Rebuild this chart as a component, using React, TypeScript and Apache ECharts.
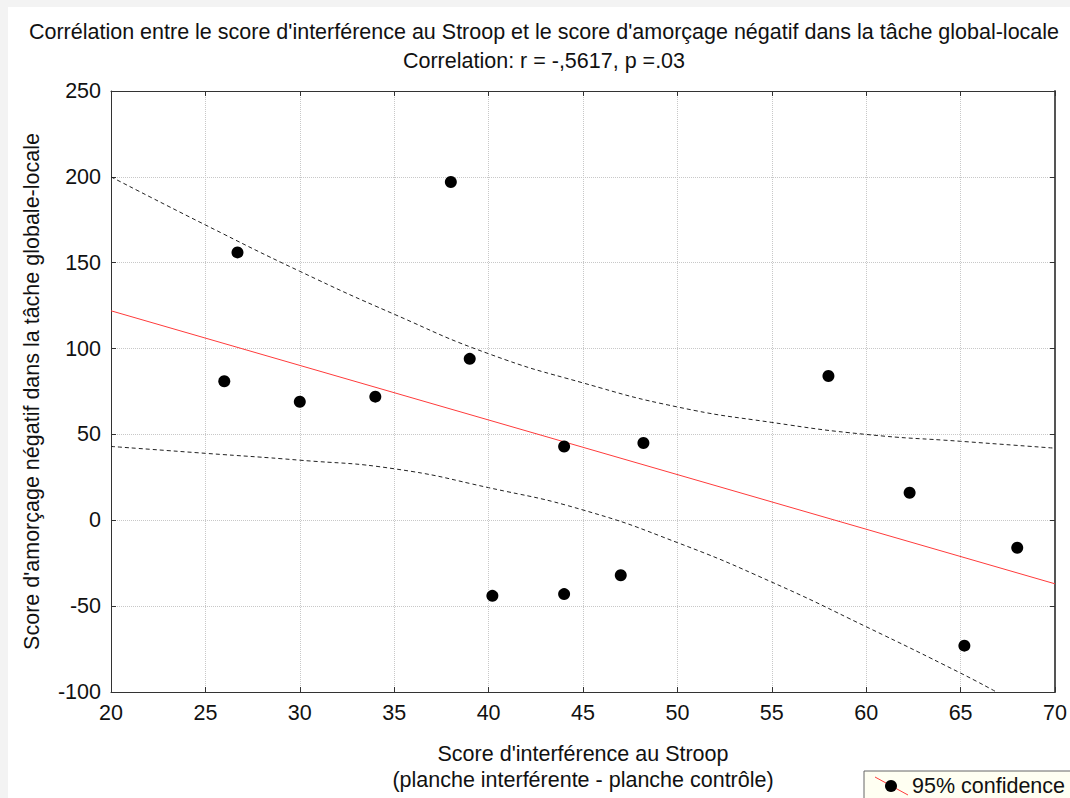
import React, { useEffect, useRef } from "react";
import * as echarts from "echarts";

const stroopScores = [26, 26.7, 30, 34, 38, 39, 44, 48.2, 40.2, 44, 47, 58, 62.3, 68, 65.2];
const primingScores = [81, 156, 69, 72, 197, 94, 43, 45, -44, -43, -32, 84, 16, -16, -73];

const fitX = [20, 70];
const fitY = [122, -37];

const bandX = [20, 25, 30, 35, 40, 45, 50, 55, 60, 65, 70];
const upperBand = [200, 172, 145, 120, 97, 80, 66, 57, 50, 46, 42];
const lowerBandX = [20, 25, 30, 35, 40, 45, 50, 55, 60, 65, 66.9];
const lowerBand = [43, 39, 35, 30, 19, 6, -13, -36, -62, -89, -100];

const titleText =
  "Corrélation entre le score d'interférence au Stroop et le score d'amorçage négatif dans la tâche global-locale";
const subtitleText = "Correlation: r = -,5617, p =.03";
const xName = "Score d'interférence au Stroop\n(planche interférente - planche contrôle)";
const yName = "Score d'amorçage négatif dans la tâche globale-locale";
const legendLabel = "95% confidence";

const FONT = "'Liberation Sans', Arial, sans-serif";
const FS = 21.5;

export default function App() {
  const ref = useRef<HTMLDivElement>(null);
  useEffect(() => {
    if (!ref.current) return;
    const chart = echarts.init(ref.current, undefined, { renderer: "svg" });
    const zip = (xs: number[], ys: number[]) => xs.map((x, i) => [x, ys[i]]);
    const axisCommon = {
      type: "value" as const,
      axisLine: { show: true, onZero: false, lineStyle: { color: "#333", width: 1 } },
      axisTick: { show: true, inside: true, length: 5, lineStyle: { color: "#333" } },
    };
    chart.setOption({
      animation: false,
      backgroundColor: "#ffffff",
      textStyle: { fontFamily: FONT },
      title: [
        {
          text: titleText,
          left: 531,
          top: 9,
          textAlign: "center",
          textStyle: { fontFamily: FONT, fontSize: FS, fontWeight: "normal", color: "#111" },
        },
        {
          text: subtitleText,
          left: 531,
          top: 38,
          textAlign: "center",
          textStyle: { fontFamily: FONT, fontSize: FS, fontWeight: "normal", color: "#111" },
        },
      ],
      grid: { left: 103, top: 84, width: 944, height: 605, containLabel: false },
      xAxis: [
        {
          ...axisCommon,
          min: 20,
          max: 70,
          interval: 5,
          position: "bottom",
          name: xName,
          nameLocation: "middle",
          nameGap: 49,
          nameTextStyle: { fontFamily: FONT, fontSize: FS, color: "#111", lineHeight: 26 },
          axisLabel: { fontFamily: FONT, fontSize: FS, color: "#111", margin: 10 },
          splitLine: { show: true, lineStyle: { type: "dotted", color: "#c8c8c8", width: 1 } },
        },
        {
          ...axisCommon,
          min: 20,
          max: 70,
          interval: 5,
          position: "top",
          axisLabel: { show: false },
          splitLine: { show: false },
        },
      ],
      yAxis: [
        {
          ...axisCommon,
          min: -100,
          max: 250,
          interval: 50,
          position: "left",
          name: yName,
          nameLocation: "middle",
          nameGap: 68,
          nameTextStyle: { fontFamily: FONT, fontSize: FS, color: "#111" },
          axisLabel: { fontFamily: FONT, fontSize: FS, color: "#111", margin: 10 },
          splitLine: { show: true, lineStyle: { type: "dotted", color: "#c8c8c8", width: 1 } },
        },
        {
          ...axisCommon,
          min: -100,
          max: 250,
          interval: 50,
          position: "right",
          axisLine: { show: true, onZero: false, lineStyle: { color: "#555", width: 2 } },
          axisLabel: { show: false },
          splitLine: { show: false },
        },
      ],
      series: [
        {
          type: "line",
          data: zip(bandX, upperBand),
          smooth: true,
          showSymbol: false,
          symbol: "none",
          lineStyle: { color: "#222", width: 1, type: [4, 3] },
          clip: true,
          z: 2,
        },
        {
          type: "line",
          data: zip(lowerBandX, lowerBand),
          smooth: true,
          showSymbol: false,
          symbol: "none",
          lineStyle: { color: "#222", width: 1, type: [4, 3] },
          clip: true,
          z: 2,
        },
        {
          type: "line",
          data: zip(fitX, fitY),
          showSymbol: false,
          symbol: "none",
          lineStyle: { color: "#ff3b3b", width: 1 },
          z: 3,
        },
        {
          type: "scatter",
          data: zip(stroopScores, primingScores),
          symbol: "circle",
          symbolSize: 12,
          itemStyle: { color: "#000", opacity: 1 },
          z: 4,
        },
      ],
      graphic: [
        {
          type: "rect",
          shape: { x: 856, y: 764, width: 230, height: 60 },
          style: { fill: "#fffff2", stroke: "#666", lineWidth: 1 },
          z: 10,
        },
        {
          type: "line",
          shape: { x1: 867, y1: 770, x2: 900, y2: 788 },
          style: { stroke: "#ff3b3b", lineWidth: 1 },
          z: 11,
        },
        {
          type: "circle",
          shape: { cx: 883, cy: 779, r: 6 },
          style: { fill: "#000" },
          z: 12,
        },
        {
          type: "text",
          x: 904,
          y: 779,
          style: {
            text: legendLabel,
            font: `${FS}px ${FONT}`,
            fill: "#111",
            textVerticalAlign: "middle",
            verticalAlign: "middle",
          },
          z: 12,
        },
      ],
    });
    return () => chart.dispose();
  }, []);
  return (
    <div
      style={{
        position: "fixed",
        left: 0,
        top: 0,
        width: 1070,
        height: 798,
        background: "#f3f3f3",
        overflow: "hidden",
      }}
    >
      <div
        ref={ref}
        style={{ position: "absolute", left: 8, top: 7, width: 1062, height: 791 }}
      />
    </div>
  );
}
